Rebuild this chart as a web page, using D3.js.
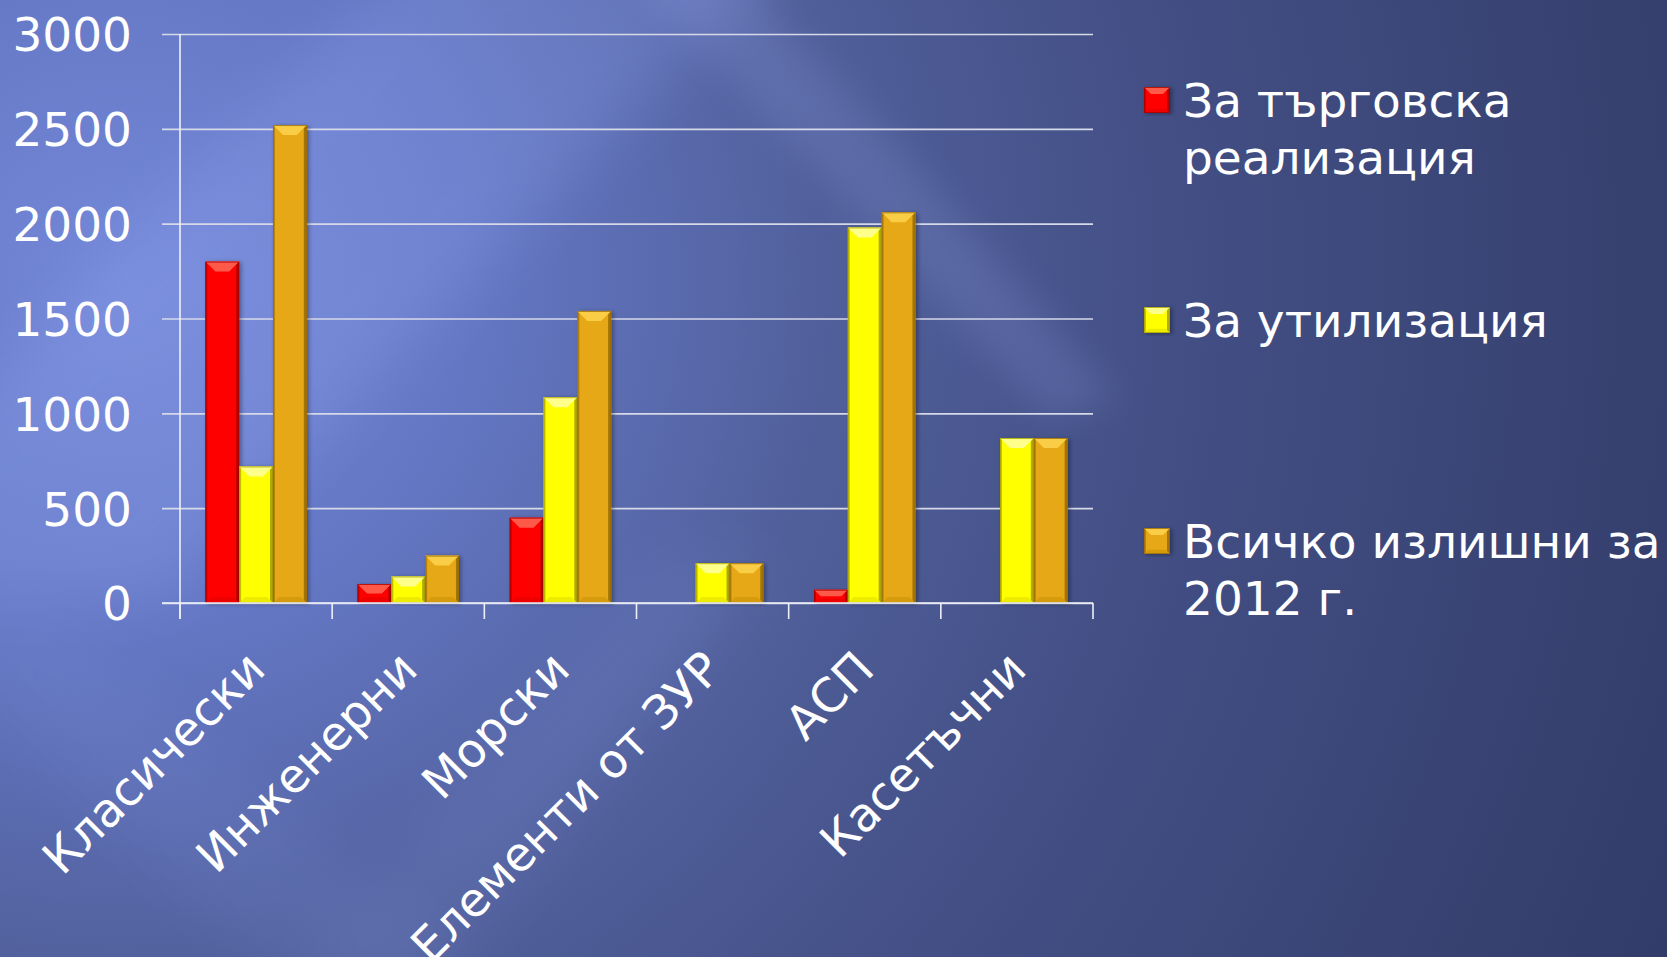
<!DOCTYPE html>
<html lang="bg">
<head>
<meta charset="utf-8">
<title>Излишни боеприпаси</title>
<script src="https://cdn.jsdelivr.net/npm/d3@7/dist/d3.min.js"></script>
<style>
  html, body { margin: 0; padding: 0; background: #3a4676; overflow: hidden; }
  svg { display: block; }
  text { font-family: "DejaVu Sans", Verdana, sans-serif; fill: #fff; }
</style>
</head>
<body>
<svg id="chart"></svg>
<script>
// --- данни ---
const categories = ['Класически', 'Инженерни', 'Морски', 'Елементи от ЗУР', 'АСП', 'Касетъчни']
const tradeValues = [1800, 100, 450, 0, 70, 0]      // За търговска реализация
const utilValues = [720, 140, 1085, 210, 1980, 870] // За утилизация
const totalValues = [2520, 250, 1540, 210, 2060, 870] // Всичко излишни за 2012 г.
const yTicks = [0, 500, 1000, 1500, 2000, 2500, 3000]
const legendLines = [
  ['За търговска', 'реализация'],
  ['За утилизация'],
  ['Всичко излишни за', '2012 г.']
]

// цветове по серия: основен, светъл (скосяване), тъмен (ръб)
const seriesColors = [
  { base: '#ff0000', light: '#ff5a4a', dark: '#a80000' },
  { base: '#ffff00', light: '#ffff8c', dark: '#a6a000' },
  { base: '#e6a812', light: '#f9cd45', dark: '#976a06' }
]

const W = 1667
const H = 957
const plot = { left: 180, right: 1093, top: 34, bottom: 603, gridStart: 162 }
const fontSize = 47

const svg = d3.select('#chart').attr('width', W).attr('height', H)
const defs = svg.append('defs')

// фон: радиален градиент + светли диагонални ивици
const bg = defs.append('radialGradient')
  .attr('id', 'bgGrad')
  .attr('gradientUnits', 'userSpaceOnUse')
  .attr('cx', 120).attr('cy', 280).attr('r', 1750)
;[[0, '#7488d8'], [0.2, '#6477c4'], [0.4, '#51609c'], [0.6, '#434f85'], [1, '#303a66']]
  .forEach(([o, c]) => bg.append('stop').attr('offset', o).attr('stop-color', c))

defs.append('filter').attr('id', 'blurBig')
  .attr('x', '-50%').attr('y', '-50%').attr('width', '200%').attr('height', '200%')
  .append('feGaussianBlur').attr('stdDeviation', 30)

defs.append('filter').attr('id', 'blurSmall')
  .attr('x', '-50%').attr('y', '-50%').attr('width', '200%').attr('height', '200%')
  .append('feGaussianBlur').attr('stdDeviation', 18)

const shadow = defs.append('filter').attr('id', 'barShadow')
  .attr('x', '-30%').attr('y', '-10%').attr('width', '160%').attr('height', '120%')
shadow.append('feDropShadow')
  .attr('dx', 2).attr('dy', 1).attr('stdDeviation', 2)
  .attr('flood-color', '#000').attr('flood-opacity', 0.35)

svg.append('rect').attr('width', W).attr('height', H).attr('fill', 'url(#bgGrad)')

const streaks = svg.append('g').attr('class', 'streaks')
// голяма светла ивица отгоре надолу-наляво
streaks.append('polygon')
  .attr('points', '420,-60 800,-60 160,600 -220,600')
  .attr('fill', '#9fb2ff').attr('opacity', 0.2).attr('filter', 'url(#blurBig)')
// отблясък надолу-надясно
streaks.append('polygon')
  .attr('points', '620,-40 730,-40 1120,400 1050,420')
  .attr('fill', '#a9b8ff').attr('opacity', 0.14).attr('filter', 'url(#blurSmall)')
// долни ивици
streaks.append('polygon')
  .attr('points', '660,560 780,560 440,980 290,980')
  .attr('fill', '#9fb2ff').attr('opacity', 0.1).attr('filter', 'url(#blurBig)')
streaks.append('polygon')
  .attr('points', '-80,640 40,600 480,980 280,980')
  .attr('fill', '#9fb2ff').attr('opacity', 0.08).attr('filter', 'url(#blurBig)')

// --- скали ---
const x = d3.scaleBand().domain(categories).range([plot.left, plot.right]).padding(0)
const y = d3.scaleLinear().domain([0, 3000]).range([plot.bottom, plot.top])
const barW = x.bandwidth() / 4.5 // gap width 150%
const xs = d3.scaleBand().domain([0, 1, 2]).range([0.75 * barW, 3.75 * barW]).padding(0)

// --- мрежа и ос Y ---
const yAxis = d3.axisLeft(y)
  .tickValues(yTicks)
  .tickSizeInner(-(plot.right - plot.gridStart))
  .tickSizeOuter(0)
  .tickPadding(30)
  .tickFormat(d3.format('d'))

const yg = svg.append('g')
  .attr('transform', `translate(${plot.gridStart},0)`)
  .call(yAxis)
yg.select('.domain').remove()
yg.selectAll('.tick line').attr('stroke', '#d6d9e8').attr('stroke-width', 1.6)
yg.selectAll('.tick text')
  .attr('fill', '#fff')
  .attr('font-size', fontSize)
  .attr('font-family', '"DejaVu Sans", Verdana, sans-serif')
  .attr('dy', '0.36em')

// вертикална ос
svg.append('line')
  .attr('x1', plot.left).attr('x2', plot.left)
  .attr('y1', plot.top).attr('y2', plot.bottom + 16)
  .attr('stroke', '#eef0f8').attr('stroke-width', 1.6)

// --- стълбове ---
function drawBar(g, x0, y0, w, h, c, bev) {
  const b = Math.min(bev, h / 2)
  const grp = g.append('g').attr('filter', 'url(#barShadow)')
  grp.append('rect')
    .attr('x', x0).attr('y', y0).attr('width', w).attr('height', h)
    .attr('fill', c.base)
  // тъмни странични ръбове
  grp.append('polygon')
    .attr('points', `${x0},${y0} ${x0 + 2},${y0 + 2} ${x0 + 2},${y0 + h - 2} ${x0},${y0 + h}`)
    .attr('fill', c.dark).attr('opacity', 0.6)
  grp.append('polygon')
    .attr('points', `${x0 + w},${y0} ${x0 + w - 3},${y0 + 3} ${x0 + w - 3},${y0 + h - 3} ${x0 + w},${y0 + h}`)
    .attr('fill', c.dark).attr('opacity', 0.85)
  // горно скосяване
  grp.append('polygon')
    .attr('points', `${x0},${y0} ${x0 + w},${y0} ${x0 + w - b},${y0 + b} ${x0 + b},${y0 + b}`)
    .attr('fill', c.light)
  // долно скосяване
  grp.append('polygon')
    .attr('points', `${x0},${y0 + h} ${x0 + w},${y0 + h} ${x0 + w - b * 0.6},${y0 + h - b * 0.6} ${x0 + b * 0.6},${y0 + h - b * 0.6}`)
    .attr('fill', c.dark).attr('opacity', 0.2)
  grp.append('rect')
    .attr('x', x0 + 0.5).attr('y', y0 + 0.5).attr('width', w - 1).attr('height', h - 1)
    .attr('fill', 'none').attr('stroke', c.dark).attr('stroke-width', 1).attr('opacity', 0.8)
}

const seriesValues = [tradeValues, utilValues, totalValues]
const barsG = svg.append('g').attr('class', 'bars')
categories.forEach((cat, i) => {
  seriesValues.forEach((vals, s) => {
    const v = vals[i]
    if (!v) return
    const x0 = x(cat) + xs(s)
    const y0 = y(v)
    drawBar(barsG, x0, y0, xs.bandwidth(), y(0) - y0, seriesColors[s], 10)
  })
})

// --- ос X ---
svg.append('line')
  .attr('x1', plot.gridStart).attr('x2', plot.right)
  .attr('y1', plot.bottom).attr('y2', plot.bottom)
  .attr('stroke', '#eef0f8').attr('stroke-width', 1.6)

const tickXs = categories.map(c => x(c)).concat([plot.right])
svg.append('g').selectAll('line')
  .data(tickXs)
  .enter()
  .append('line')
  .attr('x1', d => d).attr('x2', d => d)
  .attr('y1', plot.bottom).attr('y2', plot.bottom + 16)
  .attr('stroke', '#eef0f8').attr('stroke-width', 1.6)

// надписите са завъртени на -45°, както в оригинала ("Елементи от ЗУР" излиза извън долния край)
svg.append('g').attr('class', 'x-labels').selectAll('text')
  .data(categories)
  .enter()
  .append('text')
  .attr('transform', d => `translate(${x(d) + x.bandwidth() / 2},${plot.bottom + 57}) rotate(-45)`)
  .attr('text-anchor', 'end')
  .attr('dy', '0.35em')
  .attr('font-size', fontSize)
  .text(d => d)

// --- легенда ---
const legendX = 1144
const legendBaselines = [117, 337, 558]
const lineGap = 57
const legend = svg.append('g').attr('class', 'legend')
legendLines.forEach((lines, s) => {
  const by = legendBaselines[s]
  drawBar(legend, legendX, by - 30, 26, 26, seriesColors[s], 7)
  legend.append('text')
    .attr('x', legendX + 39)
    .attr('y', by)
    .attr('font-size', fontSize)
    .selectAll('tspan')
    .data(lines)
    .enter()
    .append('tspan')
    .attr('x', legendX + 39)
    .attr('dy', (d, k) => k === 0 ? 0 : lineGap)
    .text(d => d)
})
</script>
</body>
</html>
